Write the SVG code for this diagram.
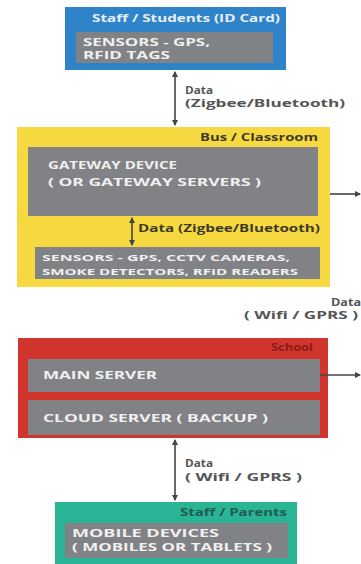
<svg xmlns="http://www.w3.org/2000/svg" width="361" height="564" viewBox="0 0 361 564">
<style>
text{font-family:"Open Sans","Liberation Sans",sans-serif;font-weight:bold}
.in{fill:#f0f0f0;font-size:10.5px}
.sm{fill:#f0f0f0;font-size:9.5px}
.lbl{fill:#555555;font-size:10px}
.gray{fill:#808285}
.conn{stroke:#444444;stroke-width:1.6;fill:none}
</style>
<defs>
<marker id="ah" viewBox="0 0 6 6" refX="5" refY="3" markerWidth="4" markerHeight="4" orient="auto-start-reverse"><path d="M0,0 L6,3 L0,6 z" fill="#444444"/></marker>
</defs>
<rect width="361" height="564" fill="#ffffff"/>
<g id="staff-students">
<rect x="65" y="7" width="221" height="63" fill="#2f83c9"/>
<text x="280" y="22" text-anchor="end" fill="#e6f0fa" font-size="10" textLength="188" lengthAdjust="spacingAndGlyphs">Staff / Students (ID Card)</text>
<rect class="gray" x="76" y="32" width="197" height="31"/>
<text class="in" x="83" y="46" textLength="127" lengthAdjust="spacingAndGlyphs">SENSORS - GPS,</text>
<text class="in" x="83" y="59" textLength="87" lengthAdjust="spacingAndGlyphs">RFID TAGS</text>
</g>
<g id="bus-classroom">
<rect x="17" y="127" width="313" height="160" fill="#f6d940"/>
<text x="318" y="141" text-anchor="end" fill="#3d3a28" font-size="10" textLength="118" lengthAdjust="spacingAndGlyphs">Bus / Classroom</text>
<rect class="gray" x="28" y="147" width="290" height="69"/>
<text class="in" x="48" y="169" textLength="129" lengthAdjust="spacingAndGlyphs">GATEWAY DEVICE</text>
<text class="in" x="48" y="186" textLength="213" lengthAdjust="spacingAndGlyphs">( OR GATEWAY SERVERS )</text>
<rect class="gray" x="35" y="247" width="285" height="32"/>
<text class="sm" x="42" y="261" textLength="248" lengthAdjust="spacingAndGlyphs">SENSORS - GPS, CCTV CAMERAS,</text>
<text class="sm" x="42" y="275" textLength="256" lengthAdjust="spacingAndGlyphs">SMOKE DETECTORS, RFID READERS</text>
</g>
<g id="school">
<rect x="18" y="338" width="310" height="100" fill="#d2352d"/>
<text x="313" y="351" text-anchor="end" fill="#8a1c18" font-size="10" textLength="42" lengthAdjust="spacingAndGlyphs">School</text>
<rect class="gray" x="28" y="359" width="292" height="33"/>
<text class="in" x="43" y="379" textLength="114" lengthAdjust="spacingAndGlyphs">MAIN SERVER</text>
<rect class="gray" x="28" y="400" width="292" height="35"/>
<text class="in" x="43" y="422" textLength="225" lengthAdjust="spacingAndGlyphs">CLOUD SERVER ( BACKUP )</text>
</g>
<g id="staff-parents">
<rect x="55" y="502" width="242" height="62" fill="#2bb396"/>
<text x="287" y="516" text-anchor="end" fill="#1c5e50" font-size="10" textLength="107" lengthAdjust="spacingAndGlyphs">Staff / Parents</text>
<rect class="gray" x="65" y="523" width="223" height="35"/>
<text class="in" x="72" y="537" textLength="147" lengthAdjust="spacingAndGlyphs">MOBILE DEVICES</text>
<text class="in" x="72" y="551" textLength="200" lengthAdjust="spacingAndGlyphs">( MOBILES OR TABLETS )</text>
</g>
<g id="connectors">
<line class="conn" x1="175" y1="72" x2="175" y2="125" marker-start="url(#ah)" marker-end="url(#ah)"/>
<text class="lbl" x="185" y="94" textLength="28" lengthAdjust="spacingAndGlyphs">Data</text>
<text class="lbl" x="185" y="107" textLength="160" lengthAdjust="spacingAndGlyphs">(Zigbee/Bluetooth)</text>
<line class="conn" x1="132" y1="218" x2="132" y2="245" marker-start="url(#ah)" marker-end="url(#ah)"/>
<text class="lbl" x="138" y="232" style="fill:#3d3a28" textLength="182" lengthAdjust="spacingAndGlyphs">Data (Zigbee/Bluetooth)</text>
<line class="conn" x1="330" y1="194" x2="360" y2="194" marker-end="url(#ah)"/>
<text class="lbl" x="361" y="306" text-anchor="end" textLength="30" lengthAdjust="spacingAndGlyphs">Data</text>
<text class="lbl" x="358" y="319" text-anchor="end" textLength="114" lengthAdjust="spacingAndGlyphs">( Wifi / GPRS )</text>
<line class="conn" x1="320" y1="375" x2="360" y2="375" marker-end="url(#ah)"/>
<line class="conn" x1="175" y1="440" x2="175" y2="500" marker-start="url(#ah)" marker-end="url(#ah)"/>
<text class="lbl" x="185" y="467" textLength="28" lengthAdjust="spacingAndGlyphs">Data</text>
<text class="lbl" x="185" y="481" textLength="117" lengthAdjust="spacingAndGlyphs">( Wifi / GPRS )</text>
</g>
</svg>
